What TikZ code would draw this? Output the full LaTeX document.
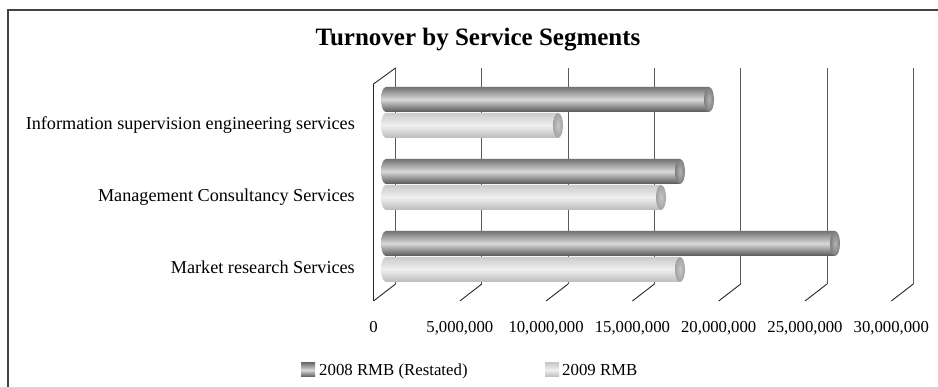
\documentclass[tikz,border=0pt]{standalone}
\usepackage{fontspec}
\setmainfont{Liberation Serif}
\definecolor{gridc}{HTML}{5A5A5A}
\definecolor{darkedge}{HTML}{575757}
\definecolor{darkmid}{HTML}{D8D8D8}
\definecolor{darktop}{HTML}{727272}
\definecolor{lightedge}{HTML}{BBBBBB}
\definecolor{lightmid}{HTML}{EFEFEF}
\definecolor{lighttop}{HTML}{CBCBCB}
\definecolor{darkcap}{HTML}{7E7E7E}
\definecolor{lightcap}{HTML}{A2A2A2}
\definecolor{framec}{HTML}{444444}
\tikzset{
  darkbar/.style={top color=darktop, bottom color=darkedge, middle color=darkmid},
  lightbar/.style={top color=lighttop, bottom color=lightedge, middle color=lightmid},
  gridline/.style={draw=gridc, line width=0.9pt},
  wall/.style={draw=black!85, line width=0.9pt},
  catlabel/.style={font=\fontsize{18.2}{21}\selectfont, anchor=base east, inner sep=0pt},
  ticklabel/.style={font=\fontsize{16.7}{19}\selectfont, anchor=base, inner sep=0pt},
  legtext/.style={font=\fontsize{16.8}{19}\selectfont, anchor=base west, inner sep=0pt},
}
\newcommand\mybar[4]{%
  \shade[#3] (386,#1) -- (#2,#1) -- (#2,#1+25) -- (386,#1+25)
     arc[start angle=90, end angle=270, x radius=5, y radius=12.5] -- cycle;
  \shade[inner color=#4!60!white, outer color=#4] (#2,#1+12.5) ellipse [x radius=5, y radius=12.5];
}
\begin{document}
\begin{tikzpicture}[x=1pt,y=-1pt]
\useasboundingbox (0,0) rectangle (938,387);
\fill[white] (0,0) rectangle (938,387);
% frame
\draw[framec, line width=2pt] (7.5,387) -- (7.5,10) -- (938,10);
% title
\node[font=\bfseries\fontsize{25}{28}\selectfont] (title) at (478,40) {Turnover by Service Segments};
% back gridlines and floor lines
\foreach \k in {0,...,6}{
  \pgfmathsetmacro\xb{395.5+86.3*\k}
  \draw[gridline] (\xb,68) -- (\xb,284);
  \draw[wall] (\xb,284) -- (\xb-22,301);
}
% left wall
\draw[wall] (373.5,301) -- (373.5,84) -- (395.5,68);
% bars
\mybar{87}{709}{darkbar}{darkcap}
\mybar{113}{558}{lightbar}{lightcap}
\mybar{159}{680}{darkbar}{darkcap}
\mybar{185}{661}{lightbar}{lightcap}
\mybar{231}{835}{darkbar}{darkcap}
\mybar{257}{680}{lightbar}{lightcap}
% category labels
\node[catlabel] (c1) at (355,129.5) {Information supervision engineering services};
\node[catlabel] (c2) at (355,201.5) {Management Consultancy Services};
\node[catlabel] (c3) at (355,273.5) {Market research Services};
% tick labels
\node[ticklabel] (t0) at (373.5,332.5) {0};
\node[ticklabel] (t1) at (459.8,332.5) {5,000,000};
\node[ticklabel] (t2) at (546.1,332.5) {10,000,000};
\node[ticklabel] (t3) at (632.4,332.5) {15,000,000};
\node[ticklabel] (t4) at (718.7,332.5) {20,000,000};
\node[ticklabel] (t5) at (805.0,332.5) {25,000,000};
\node[ticklabel] (t6) at (891.3,332.5) {30,000,000};
% legend
\shade[darkbar] (301,363) rectangle (315,377);
\node[legtext] (l1) at (319,375.5) {2008 RMB (Restated)};
\shade[lightbar] (545,363) rectangle (559,377);
\node[legtext] (l2) at (562,375.5) {2009 RMB};
\end{tikzpicture}
\end{document}
